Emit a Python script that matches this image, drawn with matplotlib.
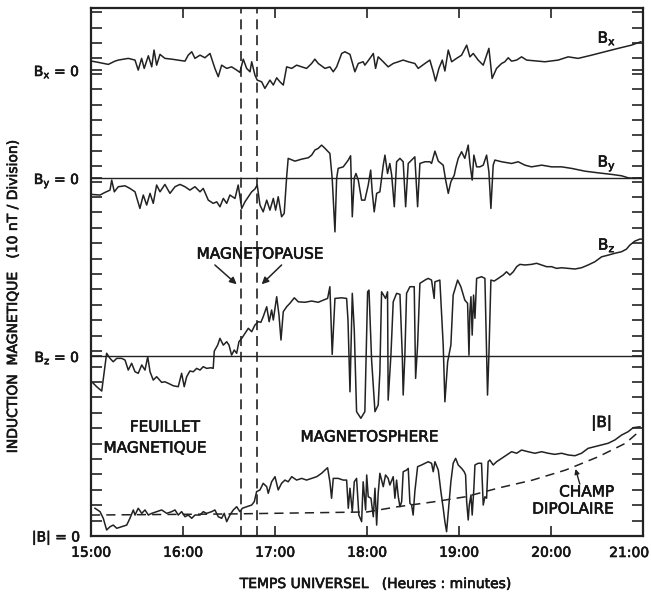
import matplotlib
matplotlib.use("Agg")
import matplotlib.pyplot as plt
import matplotlib.patheffects as pe
from matplotlib.ticker import MultipleLocator, FixedLocator

plt.rcParams['font.family'] = ['DejaVu Sans']

# time in minutes after 15:00 UT, field in nT (10 nT per division)
bx = [(0.5,5.8),(4.8,5.0),(11.3,3.7),(15.6,5.8),(17.8,6.5),(24.3,7.6),(28.7,6.5),(30.8,0),(33.0,7.6),
      (34.7,1.1),(37.4,9.3),(39.6,2.1),(41.1,13.0),(42.8,3.2),(45.0,10.2),(48.2,7.6),(52.6,7.1),(61.3,5.8),
      (63.4,9.7),(65.7,11.9),(67.8,7.6),(71.1,9.7),(74.3,8.0),(77.6,10.8),(80.8,1.1),(83.0,-4.3),(85.2,3.2),
      (88.5,1.1),(91.7,2.1),(95.0,0),(97.1,-1.5),(99.3,7.1),(101.5,1.1),(103.7,-1.1),(104.8,5.4),(106.9,-3.2),
      (108.4,-6.5),(111.3,-7.6),(113.4,-11.9),(116.7,-6.5),(118.9,-9.7),(121.1,-5.0),(123.2,-7.6),(125.4,-9.7),
      (127.6,2.1),(130.9,1.1),(134.1,3.2),(137.4,2.1),(140.6,1.1),(143.9,4.3),(146.0,7.1),(148.2,4.3),
      (152.6,1.1),(155.8,2.1),(158.0,-1.1),(160.2,2.1),(163.5,10.8),(165.6,11.9),(168.9,10.2),(172.1,-1.1),
      (174.3,4.3),(177.5,5.4),(178.6,3.2),(181.9,7.6),(184.1,10.8),(185.6,1.1),(187.3,8.6),(190.6,5.4),
      (193.8,2.1),(197.1,4.3),(200.4,5.4),(203.6,6.5),(206.9,5.4),(211.2,4.3),(213.4,1.1),(217.8,4.3),
      (221.0,6.5),(223.2,-1.1),(224.7,-7.1),(226.9,1.1),(229.1,6.5),(230.8,-0.6),(233.0,13.0),(235.2,5.4),
      (238.4,7.6),(241.7,9.7),(245.0,16.2),(247.1,8.6),(249.3,10.8),(252.5,6.5),(255.8,3.2),(258.0,9.7),
      (259.5,14.1),(261.6,-5.4),(264.5,1.1),(267.8,4.3),(269.9,5.4),(272.1,8.0),(274.3,5.8),(277.6,6.5),
      (280.8,8.6),(284.1,6.5),(296.0,5.4),(304.7,6.5),(311.2,8.6),(317.7,7.6),(326.5,9.7),(335.1,11.9),
      (343.8,14.1),(352.5,16.2),(358.6,18.4)]

by = [(0.5,-10.6),(5.9,-11.0),(9.1,-9.3),(12.4,-7.8),(13.5,-1.3),(15.2,-8.9),(17.8,-5.6),(22.2,-5.0),
      (25.4,-6.7),(28.7,-8.9),(31.9,-19.7),(34.1,-11.0),(36.3,-17.5),(38.5,-9.9),(40.6,-16.4),(42.8,-4.5),
      (45.0,-8.9),(48.2,-4.1),(51.5,-9.9),(54.8,-5.6),(58.0,-4.1),(61.3,-5.6),(64.5,-7.8),(67.8,-5.6),
      (71.1,-8.9),(73.2,-6.7),(76.5,-14.3),(79.7,-16.4),(82.0,-15.4),(84.1,-18.6),(86.3,-13.2),(88.5,-16.4),
      (90.6,-11.0),(93.9,-13.2),(96.0,-4.5),(98.3,-19.7),(100.4,-15.4),(102.6,-12.1),(104.8,-8.9),
      (106.9,-7.1),(108.4,-4.5),(110.2,-17.5),(112.3,-21.9),(114.6,-14.3),(116.7,-20.8),(118.9,-13.2),
      (120.4,-20.8),(122.1,-12.1),(124.3,-25.1),(126.0,-22.9),(127.6,0.8),(128.6,12.8),(133.0,11.0),
      (137.4,12.3),(141.7,13.2),(143.9,14.9),(146.0,18.2),(148.2,19.3),(150.4,21.4),(152.6,19.3),
      (155.8,16.0),(157.3,-0.2),(159.1,-34.9),(160.2,-0.2),(161.2,6.3),(164.5,7.3),(167.8,11.7),
      (169.3,14.5),(170.4,-25.1),(171.7,0),(172.8,3.0),(174.3,-1.3),(176.5,-14.3),(178.6,-14.3),
      (180.8,-4.5),(182.4,5.2),(183.4,-8.9),(184.7,-21.9),(186.3,-9.9),(188.4,-8.9),(190.6,8.4),
      (191.7,14.9),(193.4,3.0),(194.9,9.5),(196.1,1.9),(197.8,-18.6),(199.3,10.6),(201.5,12.8),
      (203.6,10.6),(205.2,-18.6),(206.9,9.5),(211.2,13.8),(213.0,-18.6),(214.5,9.5),(217.8,10.6),
      (221.0,10.6),(222.1,9.5),(224.3,17.5),(226.5,11.0),(229.7,8.4),(231.3,-1.3),(233.0,-9.9),
      (234.7,-2.4),(236.9,1.9),(237.8,6.3),(239.5,12.8),(241.7,17.1),(243.8,12.8),(246.0,21.4),
      (247.1,9.5),(248.6,-1.3),(249.7,14.9),(251.5,7.3),(253.6,7.3),(255.8,8.4),(258.0,14.9),
      (259.5,4.1),(260.8,-19.7),(262.3,8.4),(263.4,11.7),(267.8,10.6),(274.3,9.5),(278.6,10.6),
      (283.0,8.4),(287.3,7.3),(293.9,8.4),(300.4,7.3),(306.9,7.3),(313.4,6.3),(322.1,4.5),(330.8,3.4),
      (339.5,2.4),(346.0,1.5),(350.3,0.2),(354.7,-0.2),(358.6,0.2)]

bz = [(1.3,-17.5),(3.7,-19.9),(7.0,-22.7),(10.2,1.8),(12.4,-1.5),(14.5,-3.7),(16.8,-1.5),(20.0,-1.5),
      (22.2,-2.6),(24.3,-9.1),(26.5,-4.7),(28.7,-10.2),(30.8,-11.2),(33.1,-5.8),(35.2,-9.1),(37.0,-0.5),
      (38.5,-10.2),(40.6,-15.6),(42.8,-13.4),(46.1,-17.1),(48.2,-16.7),(50.4,-17.7),(53.7,-19.3),
      (56.9,-19.9),(59.1,-11.2),(60.8,-19.9),(62.4,-13.4),(64.5,-9.7),(66.7,-10.2),(68.9,-8.0),
      (71.1,-9.1),(73.2,-6.9),(75.4,-8.0),(78.2,-7.6),(79.7,-8.0),(80.4,3.2),(82.6,7.1),(84.1,11.5),
      (86.3,7.1),(88.5,9.3),(90.0,7.1),(91.7,0.6),(93.4,3.9),(95.0,1.8),(96.5,9.3),(98.3,11.5),
      (100.4,14.7),(102.6,18.0),(104.8,15.8),(106.9,20.1),(109.1,22.3),(110.8,21.9),(112.3,25.5),
      (114.6,32.0),(116.2,22.3),(117.8,29.9),(118.9,23.4),(121.1,38.5),(122.6,26.6),(123.9,10.4),
      (125.4,28.8),(127.6,32.0),(129.7,34.2),(132.6,37.8),(135.2,35.2),(139.5,34.9),(143.9,35.7),
      (148.2,34.9),(151.5,36.3),(154.3,37.4),(155.8,45.0),(157.3,1.1),(159.1,37.4),(163.5,37.8),
      (166.7,37.4),(167.6,23.4),(168.9,-23.2),(170.4,40.7),(171.7,16.9),(173.2,-36.1),(176.0,-40.4),
      (178.6,-36.1),(180.4,41.7),(181.3,42.8),(183.0,-2.6),(185.2,-36.1),(187.3,-31.8),(188.4,-10.2),
      (189.5,41.7),(192.1,37.4),(193.4,41.7),(193.8,-28.6),(195.6,0.6),(197.1,35.2),(199.3,40.7),
      (201.5,40.0),(203.0,0.6),(203.6,-25.3),(204.7,0.6),(205.8,40.7),(208.0,45.0),(210.8,45.0),
      (211.7,-14.5),(213.0,7.1),(214.5,47.2),(217.8,49.3),(219.9,50.4),(222.1,49.3),(223.8,37.4),
      (224.3,48.2),(227.5,49.3),(229.7,7.1),(230.8,-29.7),(232.6,-3.7),(234.7,7.1),(236.2,39.6),
      (239.1,49.3),(241.2,45.0),(243.8,36.3),(245.6,34.2),(246.5,0.6),(247.1,28.8),(247.8,38.5),
      (248.6,13.6),(249.5,39.6),(250.4,24.5),(251.5,50.4),(254.7,51.5),(256.9,50.4),(258.0,0.6),
      (258.6,-25.3),(259.5,0.6),(260.8,49.3),(263.0,48.7),(265.6,50.4),(268.8,52.6),(271.0,54.7),
      (273.2,52.6),(275.4,54.7),(277.6,58.0),(279.7,59.5),(283.0,59.1),(287.3,59.5),(290.6,60.2),
      (293.9,59.1),(297.1,58.0),(300.4,58.0),(303.6,56.9),(306.9,57.3),(311.2,56.9),(315.6,56.5),
      (319.9,57.3),(324.2,59.1),(328.6,61.2),(333.0,64.4),(337.3,65.5),(341.6,66.7),(346.0,67.7),
      (349.2,69.4),(351.4,72.0),(354.7,74.6),(358.0,75.9),(359.9,75.9)]

bt = [(2.6,18.0),(5.9,15.8),(8.0,11.5),(10.2,3.9),(12.4,6.0),(14.5,7.1),(16.8,5.0),(20.0,6.0),(23.3,7.1),
      (25.4,11.5),(27.6,16.9),(28.7,13.6),(30.8,18.0),(33.1,14.7),(35.2,16.9),(37.4,13.6),(39.6,14.7),
      (42.8,15.8),(46.1,16.9),(49.4,14.7),(52.6,15.8),(54.8,16.9),(56.9,13.6),(59.1,15.8),(61.3,12.5),
      (63.4,13.6),(65.7,11.5),(67.8,13.6),(71.1,13.6),(73.2,15.8),(75.4,14.7),(78.7,15.8),(80.8,16.9),
      (83.0,12.5),(85.2,11.5),(86.9,14.7),(88.5,9.3),(90.6,13.6),(92.8,16.9),(95.0,19.0),(97.1,15.8),
      (98.7,18.0),(101.5,19.0),(104.8,20.1),(106.5,22.3),(108.0,28.8),(110.2,29.9),(112.3,34.2),
      (114.6,32.0),(115.6,27.7),(117.8,35.2),(120.0,38.5),(122.1,29.9),(124.3,34.2),(126.5,36.3),
      (128.6,35.2),(130.9,38.5),(134.1,36.3),(137.4,37.4),(140.6,36.3),(143.9,37.4),(147.2,38.5),
      (150.4,40.7),(152.6,42.8),(154.3,44.3),(155.8,35.2),(156.9,24.5),(158.0,37.4),(161.2,37.4),
      (164.5,36.3),(166.7,36.3),(167.8,18.0),(168.9,31.0),(170.4,15.8),(171.7,35.2),(173.2,37.4),
      (174.7,13.6),(176.5,9.3),(177.5,35.2),(179.1,16.9),(179.8,39.6),(180.8,25.5),(182.6,24.5),
      (184.1,12.5),(185.2,31.0),(186.3,7.1),(187.3,27.7),(188.4,40.7),(190.6,32.0),(192.1,39.6),
      (193.8,37.4),(194.9,33.1),(197.1,38.5),(198.2,24.5),(199.3,36.3),(200.4,25.5),(201.5,19.0),
      (202.6,22.3),(203.6,41.7),(205.8,42.8),(206.9,43.9),(208.0,21.2),(209.1,20.1),(210.1,13.6),
      (211.2,28.8),(213.0,45.0),(215.6,46.1),(217.8,47.2),(219.9,48.2),(222.1,47.2),(223.2,41.7),
      (224.3,48.2),(226.5,42.8),(228.2,28.8),(229.7,18.0),(230.8,9.3),(231.9,2.8),(233.0,15.8),
      (234.7,35.2),(236.2,47.2),(237.8,50.4),(239.5,46.1),(241.7,43.9),(243.4,41.7),(244.3,39.6),
      (245.0,22.3),(246.0,10.4),(246.7,20.1),(247.8,26.6),(248.6,13.6),(249.7,31.0),(250.4,46.1),
      (252.5,47.2),(254.7,47.2),(255.8,20.1),(256.9,25.5),(258.0,24.5),(259.0,48.2),(260.1,49.3),
      (262.3,46.1),(264.5,48.2),(267.8,50.4),(271.0,52.6),(274.3,54.7),(277.6,53.7),(280.8,55.8),
      (285.1,54.7),(289.5,53.7),(293.9,54.7),(298.2,53.7),(302.5,53.0),(306.9,53.7),(311.2,52.6),
      (315.6,52.1),(319.9,53.7),(324.2,56.9),(328.6,58.0),(333.0,59.1),(337.3,60.2),(341.6,62.3),
      (346.0,65.5),(350.3,67.7),(353.6,70.3),(358.0,70.9)]

dipole = [(0,13.6),(90,14.3),(180,15.6),(200,19.0),(223,22.1),(244.5,25.5),(266,31.2),(288,36.3),
          (309.5,42.8),(331,51.5),(348.6,60.2),(358.6,68.8)]

# baseline offsets of each trace on the common vertical scale (nT)
zero_bx, zero_by, zero_bz, zero_bt = 302.4, 232.3, 116.8, 0.0
magnetopause_t = [97.6, 108.0]
hour_ticks = [0, 60, 120, 180, 240, 300, 360]
hour_labels = ['15:00', '16:00', '17:00', '18:00', '19:00', '20:00', '21:00']

fig = plt.figure(figsize=(6.51, 5.96), dpi=100)
ax = fig.add_axes([91/651, 1-536/596, (643-91)/651, (536-8)/596])
ax.set_xlim(0, 360)
ax.set_ylim(0, 342.7)

col = '#222222'
tcol = '#151515'
bold = [pe.withStroke(linewidth=0.45, foreground=tcol)]

def trace(data, off, **kw):
    t = [p[0] for p in data]
    v = [p[1] + off for p in data]
    ax.plot(t, v, color=col, lw=1.1, **kw)

trace(bx, zero_bx)
trace(by, zero_by)
trace(bz, zero_bz)
trace(bt, zero_bt)
dl, = ax.plot([p[0] for p in dipole], [p[1] + zero_bt for p in dipole], color=col, lw=1.1)
dl.set_dashes((6, 4))

ax.axhline(zero_by, color=col, lw=1.0)
ax.axhline(zero_bz, color=col, lw=1.0)
for t in magnetopause_t:
    l = ax.axvline(t, color=col, lw=1.2)
    l.set_dashes((6, 3.5))

for s in ax.spines.values():
    s.set_linewidth(1.6)
    s.set_color(col)

ax.set_xticks(hour_ticks)
ax.set_xticklabels(hour_labels[:-1] + [''], fontsize=10, color=tcol)
ax.tick_params(axis='x', direction='in', length=7, width=1.2, top=True, pad=7, colors=col, labelcolor=tcol)
# last hour label sits slightly left of its tick (at the figure edge), as in the original
ax.text((629 - 91) / 552, -10 / 528, hour_labels[-1], transform=ax.transAxes, ha='center', va='top',
        fontsize=10, color=tcol, path_effects=bold)

ax.yaxis.set_major_locator(FixedLocator([zero_bt, zero_bz, zero_by, zero_bx]))
ax.set_yticklabels([r'|B| = 0', r'B$_\mathrm{z}$ = 0', r'B$_\mathrm{y}$ = 0', r'B$_\mathrm{x}$ = 0'],
                   fontsize=10, color=tcol)
ax.yaxis.set_minor_locator(MultipleLocator(10))
ax.tick_params(axis='y', which='both', direction='in', length=8, width=1.2, right=True, colors=col,
               labelcolor=tcol, pad=8)
for lab in ax.get_xticklabels() + ax.get_yticklabels():
    lab.set_path_effects(bold)

tk = dict(color=tcol, fontsize=11, path_effects=bold)
ax.text(110.2, 183.0, 'MAGNETOPAUSE', ha='center', va='center', **tk)
ap = dict(arrowstyle='-|>', color=col, lw=1.1, mutation_scale=10, shrinkA=0, shrinkB=0)
ax.annotate('', xy=(95.0, 163.4), xytext=(80.8, 175.9), arrowprops=ap)
ax.annotate('', xy=(111.3, 163.4), xytext=(124.3, 175.9), arrowprops=ap)
ax.text(48.2, 70.7, 'FEUILLET', ha='center', va='center', **tk)
ax.text(41.7, 57.1, 'MAGNETIQUE', ha='center', va='center', **tk)
ax.text(181.6, 64.3, 'MAGNETOSPHERE', ha='center', va='center', **tk)
ax.text(333.0, 73.3, '|B|', ha='center', va='center', **tk)
ax.text(323.2, 28.6, 'CHAMP', ha='center', va='center', **tk)
ax.text(314.3, 17.5, 'DIPOLAIRE', ha='center', va='center', **tk)
ax.annotate('', xy=(316.0, 43.5), xytext=(318.8, 33.7),
            arrowprops=dict(arrowstyle='-|>', color=col, lw=1.0, mutation_scale=7, shrinkA=0, shrinkB=0))
ax.text(336.4, 323.2, r'B$_\mathrm{x}$', ha='center', va='center', **tk)
ax.text(336.4, 242.1, r'B$_\mathrm{y}$', ha='center', va='center', **tk)
ax.text(336.4, 188.9, r'B$_\mathrm{z}$', ha='center', va='center', **tk)

fig.text(375/651, 1-584/596, 'TEMPS UNIVERSEL   (Heures : minutes)', ha='center', va='center',
         fontsize=10, color=tcol, path_effects=bold)
fig.text(13/651, 1-297/596, 'INDUCTION  MAGNETIQUE   (10 nT / Division)', ha='center', va='center',
         rotation=90, fontsize=10, color=tcol, path_effects=bold)

fig.savefig('out.png', dpi=100)
